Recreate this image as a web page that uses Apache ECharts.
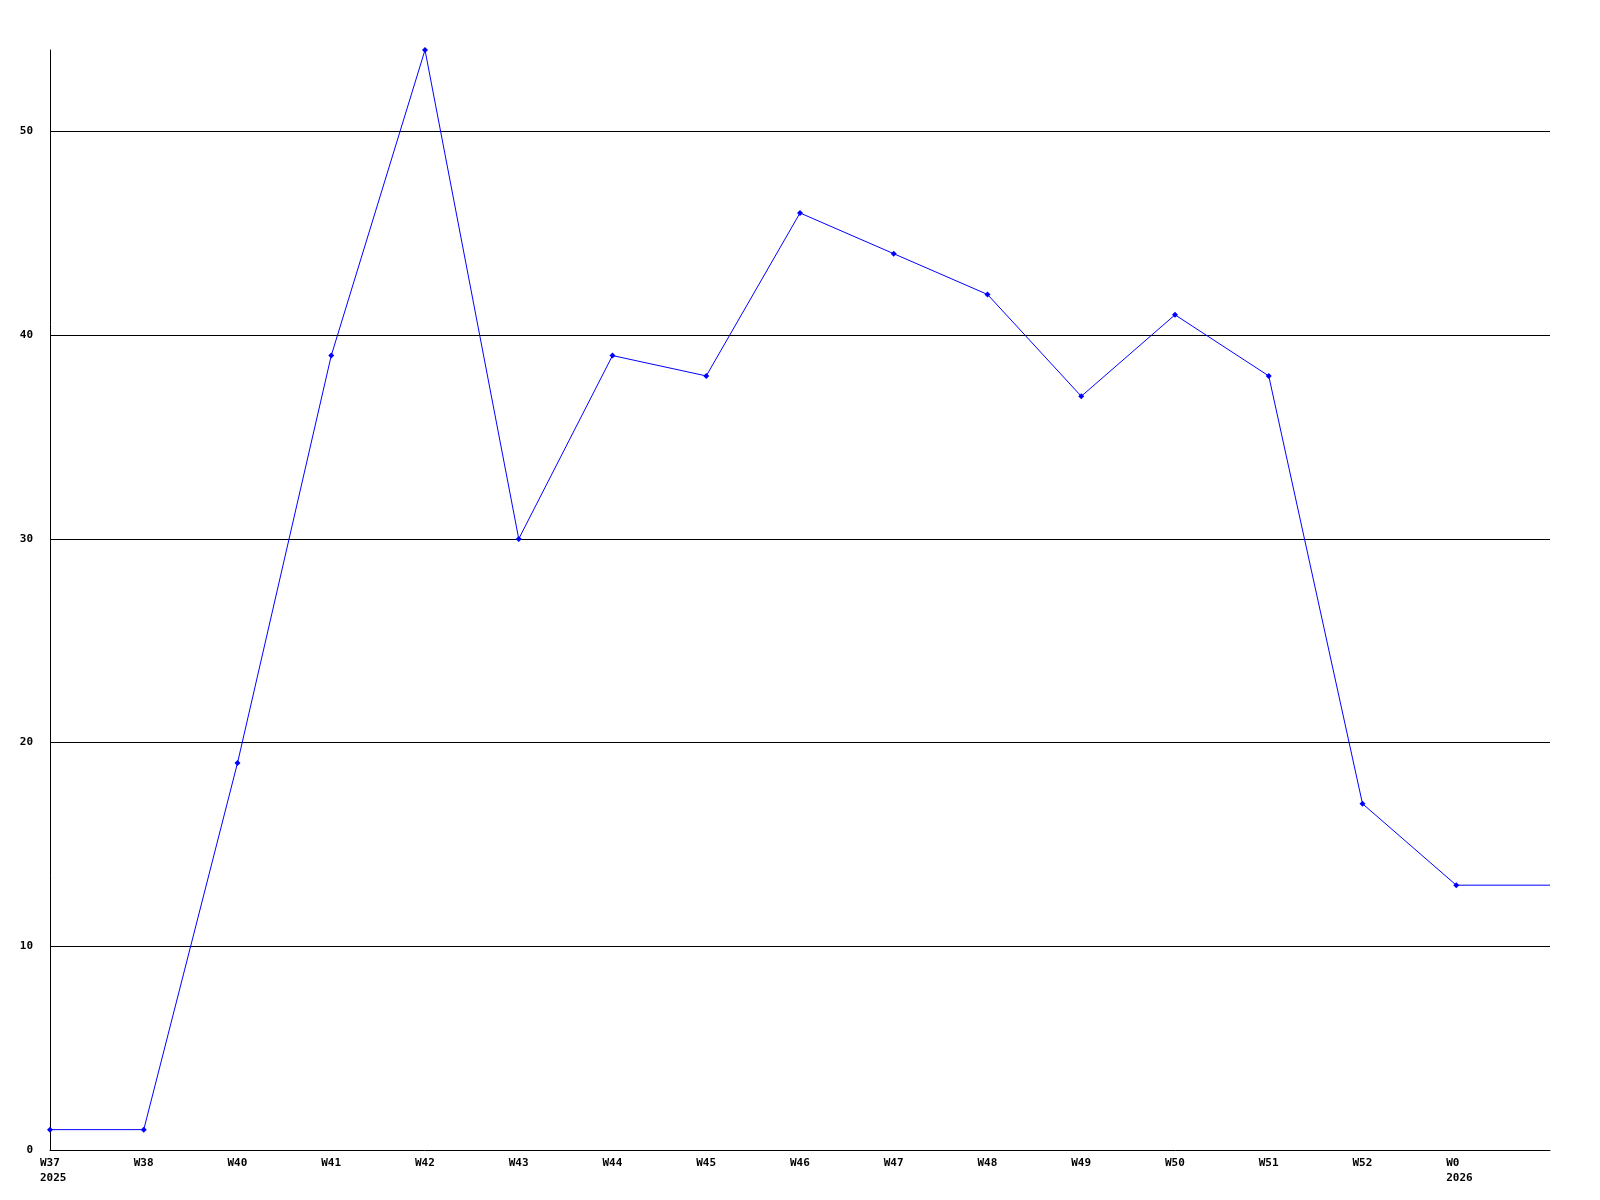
<!DOCTYPE html>
<html><head><meta charset="utf-8">
<script src="https://cdn.jsdelivr.net/npm/echarts@6/dist/echarts.min.js"></script>
<style>html,body{margin:0;padding:0;background:#fff}#c{width:1600px;height:1200px}</style>
</head><body><div id="c"></div>
<script>
const categories = ["W37\n2025","W38","W40","W41","W42","W43","W44","W45","W46","W47","W48","W49","W50","W51","W52","W0\n2026",""];
const values = [1,1,19,39,54,30,39,38,46,44,42,37,41,38,17,13,13];
const yTicks = [0,10,20,30,40,50];

const chart = echarts.init(document.getElementById('c'), null, {renderer:'canvas'});
const data = values.map((v,i)=> i===values.length-1 ? {value:v, symbol:'none'} : v);
chart.setOption({
  animation:false,
  backgroundColor:'#fff',
  grid:{left:50,right:50,top:50,bottom:50},
  xAxis:{type:'category',data:categories,boundaryGap:false,
    axisLine:{show:true,lineStyle:{color:'#000',width:1}},
    axisTick:{show:false},
    splitLine:{show:false},
    axisLabel:{interval:0,color:'#000',fontFamily:'DejaVu Sans Mono',fontWeight:'bold',fontSize:11,
      align:'left',margin:6,lineHeight:15,padding:[0,0,0,-10]}},
  yAxis:{type:'value',min:0,max:54,interval:10,
    axisLine:{show:true,lineStyle:{color:'#000',width:1}},
    axisTick:{show:false},
    splitLine:{show:true,showMinLine:false,showMaxLine:false,lineStyle:{color:'#000',width:1}},
    axisLabel:{color:'#000',fontFamily:'DejaVu Sans Mono',fontWeight:'bold',fontSize:11,margin:17,showMaxLabel:false,
      formatter:v=> yTicks.includes(v)? String(v):''}},
  series:[{type:'line',data:data,symbol:'diamond',symbolSize:6,showSymbol:true,
    lineStyle:{color:'#0000ff',width:1},itemStyle:{color:'#0000ff'}}]
});
</script></body></html>
